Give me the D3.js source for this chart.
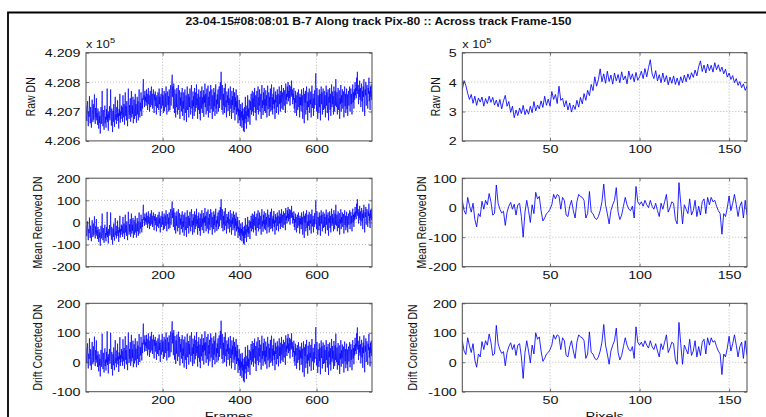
<!DOCTYPE html>
<html><head><meta charset="utf-8">
<script src="https://cdn.jsdelivr.net/npm/d3@7"></script>
<style>
html,body{margin:0;padding:0;background:#fff;overflow:hidden}
svg{display:block}
text{font-family:"Liberation Sans",Arial,Helvetica,sans-serif;fill:#111}
</style></head><body>
<svg id="chart" width="766" height="417"></svg>
<script>
const titleText = "23-04-15#08:08:01 B-7 Along track Pix-80 :: Across track Frame-150";

const frameRawDN = [
420720,420685,420668,420710,420735,420675,420650,420700,420682,420752,420695,420660,420715,420678,420645,420702,420740,420690,420664,420725,420672,420700,420758,420686,420658,420712,420680,420745,420670,420695,420655,
420710,420675,420642,420700,420662,420685,420625,420670,420715,420658,420692,420770,420680,420650,420705,420668,420638,420697,420720,420660,420682,420645,420708,420672,420778,420664,420690,420635,420700,420678,420718,
420670,420695,420775,420685,420652,420710,420675,420630,420702,420665,420725,420682,420648,420700,420750,420672,420690,420658,420715,420680,420738,420668,420695,420642,420708,420685,420760,420662,420700,420675,420720,
420690,420715,420665,420755,420700,420680,420725,420655,420708,420765,420685,420718,420670,420735,420695,420650,420712,420778,420702,420675,420722,420688,420745,420665,420705,420770,420680,420720,420692,420750,420660,
420700,420740,420675,420710,420760,420685,420725,420662,420705,420750,420690,420735,420670,420715,420775,420695,420680,420730,420702,420765,420720,420685,420745,420710,420780,420810,420740,420755,420715,420770,420735,
420750,420720,420775,420730,420760,420705,420745,420780,420725,420755,420700,420740,420770,420715,420752,420785,420722,420760,420710,420742,420775,420732,420695,420758,420738,420768,420718,420748,420690,420755,420735,
420712,420765,420740,420705,420778,420725,420750,420685,420745,420760,420710,420735,420780,420720,420755,420695,420742,420770,420702,420730,420762,420715,420785,420738,420690,420748,420768,420722,420752,420700,420775,
420740,420705,420770,420790,420720,420760,420805,420825,420750,420785,420710,420795,420745,420695,420775,420735,420680,420760,420715,420780,420730,420690,420755,420790,420705,420740,420772,420675,420748,420720,420765,
420700,420750,420780,420685,420735,420710,420765,420670,420745,420775,420720,420695,420755,420665,420740,420785,420705,420730,420760,420680,420750,420715,420778,420725,420690,420758,420790,420710,420738,420675,420768,
420718,420752,420685,420780,420730,420700,420765,420712,420792,420722,420745,420675,420760,420705,420775,420735,420692,420750,420670,420770,420740,420710,420785,420695,420748,420725,420772,420682,420755,420730,420795,
420715,420760,420690,420742,420778,420702,420735,420788,420680,420750,420720,420768,420695,420745,420790,420708,420730,420775,420675,420755,420738,420700,420780,420718,420765,420685,420748,420792,420710,420740,420692,
420758,420725,420775,420700,420745,420785,420712,420765,420800,420740,420835,420770,420705,420790,420735,420690,420760,420720,420780,420695,420750,420795,420715,420738,420680,420768,420730,420755,420702,420778,420722,
420745,420685,420760,420785,420710,420740,420675,420770,420722,420752,420695,420780,420730,420705,420765,420670,420748,420715,420775,420690,420735,420700,420755,420660,420710,420685,420740,420670,420705,420650,420725,
420680,420700,420645,420730,420670,420710,420635,420690,420630,420715,420660,420750,420675,420700,420642,420720,420685,420755,420665,420710,420680,420740,420695,420655,420735,420705,420760,420690,420720,420770,420700,
420745,420685,420765,420715,420780,420725,420695,420755,420670,420740,420770,420705,420735,420785,420690,420748,420720,420775,420700,420730,420760,420675,420750,420790,420712,420738,420688,420765,420722,420780,420702,
420742,420695,420772,420720,420755,420680,420745,420788,420708,420730,420765,420685,420750,420715,420778,420700,420738,420792,420705,420748,420690,420760,420725,420782,420710,420740,420675,420768,420730,420755,420695,
420750,420775,420715,420760,420690,420740,420785,420725,420755,420700,420770,420730,420790,420710,420745,420765,420705,420780,420735,420720,420772,420748,420695,420795,420740,420760,420725,420785,420750,420800,420735,
420770,420745,420790,420720,420765,420785,420750,420805,420755,420775,420725,420760,420740,420780,420710,420745,420695,420770,420730,420755,420685,420740,420765,420705,420735,420775,420715,420750,420680,420760,420722,
420748,420700,420775,420720,420755,420675,420738,420780,420710,420660,420760,420730,420770,420690,420745,420785,420705,420735,420670,420765,420715,420752,420778,420695,420740,420725,420768,420680,420750,420788,420712,
420735,420760,420685,420745,420710,420772,420722,420790,420830,420750,420700,420780,420730,420675,420755,420740,420695,420775,420715,420760,420670,420748,420785,420725,420765,420690,420742,420778,420705,420738,420770,
420710,420755,420680,420745,420788,420720,420765,420695,420735,420775,420670,420750,420730,420780,420705,420760,420685,420740,420792,420715,420768,420725,420752,420690,420785,420742,420700,420770,420720,420810,420745,
420715,420765,420690,420750,420780,420705,420738,420772,420675,420745,420725,420790,420700,420755,420730,420775,420710,420740,420768,420680,420748,420785,420718,420760,420695,420735,420778,420708,420758,420685,420742,
420770,420720,420755,420785,420700,420745,420778,420725,420760,420690,420750,420792,420730,420765,420710,420775,420740,420800,420755,420780,420745,420815,420770,420835,420760,420790,420725,420775,420750,420805,420740,
420780,420715,420765,420795,420735,420770,420700,420785,420750,420810,420740,420685,420775,420755,420800,420720,420768,420790,420745,420710,420780,420760,420815,420735,420770,420705,420785,420750,420792,420740,420765
];

const frameMeanRemovedDN = [
-10,-45,-62,-20,5,-55,-80,-30,-48,22,-35,-70,-15,-52,-85,-28,10,-40,-66,-5,-58,-30,28,-44,-72,-18,-50,15,-60,-35,-75,
-20,-55,-88,-30,-68,-45,-105,-60,-15,-72,-38,40,-50,-80,-25,-62,-92,-33,-10,-70,-48,-85,-22,-58,48,-66,-40,-95,-30,-52,-12,
-60,-35,45,-45,-78,-20,-55,-100,-28,-65,-5,-48,-82,-30,20,-58,-40,-72,-15,-50,8,-62,-35,-88,-22,-45,30,-68,-30,-55,-10,
-40,-15,-65,25,-30,-50,-5,-75,-22,35,-45,-12,-60,5,-35,-80,-18,48,-28,-55,-8,-42,15,-65,-25,40,-50,-10,-38,20,-70,
-30,10,-55,-20,30,-45,-5,-68,-25,20,-40,5,-60,-15,45,-35,-50,0,-28,35,-10,-45,15,-20,50,80,10,25,-15,40,5,
20,-10,45,0,30,-25,15,50,-5,25,-30,10,40,-15,22,55,-8,30,-20,12,45,2,-35,28,8,38,-12,18,-40,25,5,
-18,35,10,-25,48,-5,20,-45,15,30,-20,5,50,-10,25,-35,12,40,-28,0,32,-15,55,8,-40,18,38,-8,22,-30,45,
10,-25,40,60,-10,30,75,95,20,55,-20,65,15,-35,45,5,-50,30,-15,50,0,-40,25,60,-25,10,42,-55,18,-10,35,
-30,20,50,-45,5,-20,35,-60,15,45,-10,-35,25,-65,10,55,-25,0,30,-50,20,-15,48,-5,-40,28,60,-20,8,-55,38,
-12,22,-45,50,0,-30,35,-18,62,-8,15,-55,30,-25,45,5,-38,20,-60,40,10,-20,55,-35,18,-5,42,-48,25,0,65,
-15,30,-40,12,48,-28,5,58,-50,20,-10,38,-35,15,60,-22,0,45,-55,25,8,-30,50,-12,35,-45,18,62,-20,10,-38,
28,-5,45,-30,15,55,-18,35,70,10,105,40,-25,60,5,-40,30,-10,50,-35,20,65,-15,8,-50,38,0,25,-28,48,-8,
15,-45,30,55,-20,10,-55,40,-8,22,-35,50,0,-25,35,-60,18,-15,45,-40,5,-30,25,-70,-20,-45,10,-60,-25,-80,-5,
-50,-30,-85,0,-60,-20,-95,-40,-100,-15,-70,20,-55,-30,-88,-10,-45,25,-65,-20,-50,10,-35,-75,5,-25,30,-40,-10,40,-30,
15,-45,35,-15,50,-5,-35,25,-60,10,40,-25,5,55,-40,18,-10,45,-30,0,30,-55,20,60,-18,8,-42,35,-8,50,-28,
12,-35,42,-10,25,-50,15,58,-22,0,35,-45,20,-15,48,-30,8,62,-25,18,-40,30,-5,52,-20,10,-55,38,0,25,-35,
20,45,-15,30,-40,10,55,-5,25,-30,40,0,60,-20,15,35,-25,50,5,-10,42,18,-35,65,10,30,-5,55,20,70,5,
40,15,60,-10,35,55,20,75,25,45,-5,30,10,50,-20,15,-35,40,0,25,-45,10,35,-25,5,45,-15,20,-50,30,-8,
18,-30,45,-10,25,-55,8,50,-20,-70,30,0,40,-40,15,55,-25,5,-60,35,-15,22,48,-35,10,-5,38,-50,20,58,-18,
5,30,-45,15,-20,42,-8,60,100,20,-30,50,0,-55,25,10,-35,45,-15,30,-60,18,55,-5,35,-40,12,48,-25,8,40,
-20,25,-50,15,58,-10,35,-35,5,45,-60,20,0,50,-25,30,-45,10,62,-15,38,-5,22,-40,55,12,-30,40,-10,80,15,
-15,35,-40,20,50,-25,8,42,-55,15,-5,60,-30,25,0,45,-20,10,38,-50,18,55,-12,30,-35,5,48,-22,28,-45,12,
40,-10,25,55,-30,15,48,-5,30,-40,20,62,0,35,-20,45,10,70,25,50,15,85,40,105,30,60,-5,45,20,75,10,
50,-15,35,65,5,40,-30,55,20,80,10,-45,45,25,70,-10,38,60,15,-20,50,30,85,5,40,-25,55,20,62,10,35
];

const frameDriftCorrectedDN = [
49,14,-3,39,64,4,-21,29,11,81,24,-11,44,7,-26,31,69,19,-7,54,1,29,87,15,-13,41,9,74,-1,24,-16,
37,2,-31,27,-11,12,-48,-3,42,-15,19,97,7,-23,32,-5,-35,24,47,-13,9,-28,35,-1,105,-9,17,-38,27,5,45,
-5,20,100,10,-23,35,0,-45,27,-10,50,7,-27,25,75,-3,15,-17,40,5,63,-7,20,-33,33,10,85,-13,25,0,45,
13,38,-12,78,23,3,48,-22,31,88,8,41,-7,58,18,-27,35,101,25,-2,45,11,68,-12,28,93,3,43,15,73,-17,
21,61,-4,31,81,6,46,-17,26,71,11,56,-9,36,96,16,1,51,23,86,41,6,66,31,101,131,61,76,36,91,56,
68,38,93,48,78,23,63,98,43,73,18,58,88,33,70,103,40,78,28,60,93,50,13,76,56,86,36,66,8,73,53,
28,81,56,21,94,41,66,1,61,76,26,51,96,36,71,11,58,86,18,46,78,31,101,54,6,64,84,38,68,16,91,
54,19,84,104,34,74,119,139,64,99,24,109,59,9,89,49,-6,74,29,94,44,4,69,104,19,54,86,-11,62,34,79,
12,62,92,-3,47,22,77,-18,57,87,32,7,67,-23,52,97,17,42,72,-8,62,27,90,37,2,70,102,22,50,-13,80,
28,62,-5,90,40,10,75,22,102,32,55,-15,70,15,85,45,2,60,-20,80,50,20,95,5,58,35,82,-8,65,40,105,
23,68,-2,50,86,10,43,96,-12,58,28,76,3,53,98,16,38,83,-17,63,46,8,88,26,73,-7,56,100,18,48,0,
64,31,81,6,51,91,18,71,106,46,141,76,11,96,41,-4,66,26,86,1,56,101,21,44,-14,74,36,61,8,84,28,
49,-11,64,89,14,44,-21,74,26,56,-1,84,34,9,69,-26,52,19,79,-6,39,4,59,-36,14,-11,44,-26,9,-46,29,
-18,2,-53,32,-28,12,-63,-8,-68,17,-38,52,-23,2,-56,22,-13,57,-33,12,-18,42,-3,-43,37,7,62,-8,22,72,2,
45,-15,65,15,80,25,-5,55,-30,40,70,5,35,85,-10,48,20,75,0,30,60,-25,50,90,12,38,-12,65,22,80,2,
40,-7,70,18,53,-22,43,86,6,28,63,-17,48,13,76,-2,36,90,3,46,-12,58,23,80,8,38,-27,66,28,53,-7,
46,71,11,56,-14,36,81,21,51,-4,66,26,86,6,41,61,1,76,31,16,68,44,-9,91,36,56,21,81,46,96,31,
63,38,83,13,58,78,43,98,48,68,18,53,33,73,3,38,-12,63,23,48,-22,33,58,-2,28,68,8,43,-27,53,15,
39,-9,66,11,46,-34,29,71,1,-49,51,21,61,-19,36,76,-4,26,-39,56,6,43,69,-14,31,16,59,-29,41,79,3,
24,49,-26,34,-1,61,11,79,119,39,-11,69,19,-36,44,29,-16,64,4,49,-41,37,74,14,54,-21,31,67,-6,27,59,
-3,42,-33,32,75,7,52,-18,22,62,-43,37,17,67,-8,47,-28,27,79,2,55,12,39,-23,72,29,-13,57,7,97,32,
0,50,-25,35,65,-10,23,57,-40,30,10,75,-15,40,15,60,-5,25,53,-35,33,70,3,45,-20,20,63,-7,43,-30,27,
53,3,38,68,-17,28,61,8,43,-27,33,75,13,48,-7,58,23,83,38,63,28,98,53,118,43,73,8,58,33,88,23,
61,-4,46,76,16,51,-19,66,31,91,21,-34,56,36,81,1,49,71,26,-9,61,41,96,16,51,-14,66,31,73,21,46
];

const pixelRawDN = [
375000,405000,388000,362000,341000,358000,328000,352000,321000,346000,332000,349000,318000,344000,327000,352000,331000,348000,322000,339000,
316000,341000,309000,336000,355000,318000,334000,297000,318000,279000,305000,286000,312000,293000,321000,289000,307000,291000,318000,296000,
334000,302000,322000,309000,336000,314000,352000,321000,342000,318000,368000,341000,358000,327000,386000,338000,345000,316000,337000,305000,
329000,298000,322000,307000,338000,315000,348000,326000,361000,338000,372000,354000,392000,371000,418000,386000,408000,445000,401000,428000,
396000,437000,402000,424000,393000,431000,404000,426000,398000,435000,407000,421000,394000,438000,409000,428000,401000,433000,406000,418000,
437000,412000,446000,418000,449000,476000,428000,412000,439000,404000,425000,398000,431000,401000,422000,391000,417000,396000,421000,392000,
414000,389000,418000,398000,424000,401000,428000,409000,432000,416000,441000,421000,452000,472000,436000,458000,431000,461000,439000,457000,
434000,466000,442000,459000,436000,451000,428000,444000,417000,431000,409000,422000,398000,412000,389000,402000,381000,394000,372000,386000
];

const pixelMeanRemovedDN = [
25,-10,-22,35,8,-15,15,-40,-65,-20,-30,22,-5,25,10,48,20,-25,-20,77,
15,-5,-18,-12,-60,-15,5,18,-5,12,-25,10,15,-30,-100,-15,25,-10,-50,10,
-20,52,30,38,-10,-45,-35,-20,-15,-5,10,45,30,45,40,-5,35,25,-25,-30,
5,25,-10,-35,20,45,38,35,25,-35,-20,55,-15,-20,-35,-40,-30,-10,20,80,
10,-20,-55,-10,10,25,68,-15,-40,-25,5,35,10,-5,-10,5,-35,72,20,10,
20,5,25,10,0,25,5,-5,15,-10,-30,15,-5,20,45,-15,0,20,15,-40,
-55,85,15,-55,10,-5,-20,30,-25,-10,25,-30,5,-25,20,30,-20,35,10,35,
20,25,5,-10,-20,-90,-20,-30,0,40,-10,15,45,10,-30,5,20,-35,25,-25
];

const pixelDriftCorrectedDN = [
73,38,26,83,56,33,63,8,-17,28,18,70,43,73,58,96,68,23,28,125,
63,43,30,36,-12,33,53,66,43,60,23,58,63,18,-55,33,73,38,-2,58,
28,100,78,86,38,3,13,28,33,43,58,93,78,93,88,43,83,73,23,18,
53,73,38,13,68,93,86,83,73,13,28,103,33,28,13,8,18,38,68,128,
58,28,-7,38,58,73,116,33,8,23,53,83,58,43,38,53,13,120,68,58,
68,53,73,58,48,73,53,43,63,38,18,63,43,68,93,33,48,68,63,8,
-7,135,63,-7,58,43,28,78,23,38,73,18,53,23,68,78,28,83,58,83,
68,73,53,38,28,-42,28,18,48,88,38,63,93,58,18,53,68,13,73,23
];

const frameTicks = [200, 400, 600];
const pixelTicks = [50, 100, 150];
const rawFrameTicks = [420600, 420700, 420800, 420900];
const rawPixelTicks = [200000, 300000, 400000, 500000];
const mrFrameTicks = [-200, -100, 0, 100, 200];
const mrPixelTicks = [-200, -100, 0, 100];
const dcTicks = [-100, 0, 100, 200];
const yLabels = ["Raw DN", "Mean Removed DN", "Drift Corrected DN"];
const xLabels = ["Frames", "Pixels"];
const exponentLabel = "5";

// ---------- layout ----------
const SX = 1.3;           // horizontal glyph stretch of the source image
const FS = 11;            // tick font size
const cols = [{x0: 86, x1: 372, dom: [1, 744], ticks: frameTicks},
              {x0: 462.3, x1: 747, dom: [1, 160], ticks: pixelTicks}];
const rows = [{y0: 52.7, y1: 140.9}, {y0: 178.2, y1: 266.7}, {y0: 303.3, y1: 391.7}];

const panels = [
  {r: 0, c: 0, data: frameRawDN, yDom: [420600, 420900], yTicks: rawFrameTicks, fmt: v => (v / 1e5).toFixed(3), label: yLabels[0], labX: 30, exp: true},
  {r: 0, c: 1, data: pixelRawDN, yDom: [200000, 500000], yTicks: rawPixelTicks, fmt: v => String(v / 1e5), label: yLabels[0], labX: 435, exp: true},
  {r: 1, c: 0, data: frameMeanRemovedDN, yDom: [-200, 200], yTicks: mrFrameTicks, fmt: String, label: yLabels[1], labX: 37},
  {r: 1, c: 1, data: pixelMeanRemovedDN, yDom: [-200, 100], yTicks: mrPixelTicks, fmt: String, label: yLabels[1], labX: 421.5},
  {r: 2, c: 0, data: frameDriftCorrectedDN, yDom: [-100, 200], yTicks: dcTicks, fmt: String, label: yLabels[2], labX: 37},
  {r: 2, c: 1, data: pixelDriftCorrectedDN, yDom: [-100, 200], yTicks: dcTicks, fmt: String, label: yLabels[2], labX: 412}
];

const svg = d3.select("#chart");
svg.append("rect").attr("width", 766).attr("height", 417).attr("fill", "#fff");
svg.append("path").attr("d", "M8,417V12.5H766").attr("fill", "none")
  .attr("stroke", "#000").attr("stroke-width", 1.8);

svg.append("text").attr("x", 378.5).attr("y", 24.5).attr("text-anchor", "middle")
  .attr("font-size", 11).attr("font-weight", "bold")
  .attr("textLength", 386).attr("lengthAdjust", "spacingAndGlyphs")
  .text(titleText);

const defs = svg.append("defs");
const AX = "#4a4a4a";

panels.forEach((p, i) => {
  const col = cols[p.c], row = rows[p.r];
  const x = d3.scaleLinear().domain(col.dom).range([col.x0, col.x1]);
  const y = d3.scaleLinear().domain(p.yDom).range([row.y1, row.y0]);
  const g = svg.append("g");

  // grid
  const grid = g.append("g").attr("stroke", "#a8a8a8").attr("stroke-width", 0.8)
    .attr("stroke-dasharray", "1,2");
  grid.append("g").selectAll("line").data(col.ticks).join("line")
    .attr("x1", d => x(d)).attr("x2", d => x(d)).attr("y1", row.y0).attr("y2", row.y1);
  grid.append("g").selectAll("line").data(p.yTicks.filter(v => v > p.yDom[0] && v < p.yDom[1])).join("line")
    .attr("y1", d => y(d)).attr("y2", d => y(d)).attr("x1", col.x0).attr("x2", col.x1);

  // data line
  const cid = "clip" + i;
  defs.append("clipPath").attr("id", cid).append("rect")
    .attr("x", col.x0).attr("y", row.y0).attr("width", col.x1 - col.x0).attr("height", row.y1 - row.y0);
  const line = d3.line().x((d, k) => x(k + 1)).y(d => y(d));
  g.append("path").datum(p.data).attr("clip-path", `url(#${cid})`)
    .attr("d", line).attr("fill", "none").attr("stroke", "#0000ff")
    .attr("stroke-width", p.c === 0 ? 0.7 : 0.85).attr("stroke-linejoin", "round");

  // axes (MATLAB-style inward ticks)
  const style = sel => {
    sel.select(".domain").remove();
    sel.attr("color", AX).attr("font-family", null).attr("font-size", null);
    sel.selectAll(".tick line").attr("stroke-width", 0.8);
  };
  const xb = g.append("g").attr("transform", `translate(0,${row.y1})`)
    .call(d3.axisBottom(x).tickValues(col.ticks).tickSize(-3).tickPadding(4.6).tickFormat(d => String(d)));
  style(xb);
  xb.selectAll("text").attr("font-size", FS).attr("transform", `scale(${SX},1)`).style("fill", "#111");
  const yl = g.append("g").attr("transform", `translate(${col.x0},0)`)
    .call(d3.axisLeft(y).tickValues(p.yTicks).tickSize(-3).tickPadding(5.5).tickFormat(p.fmt));
  style(yl);
  yl.selectAll("text").attr("font-size", FS).attr("x", -5.5 / SX).attr("dy", "0.36em")
    .attr("transform", `scale(${SX},1)`).style("fill", "#111");
  const xt = g.append("g").attr("transform", `translate(0,${row.y0})`)
    .call(d3.axisTop(x).tickValues(col.ticks).tickSize(-3).tickFormat(""));
  style(xt);
  const yr = g.append("g").attr("transform", `translate(${col.x1},0)`)
    .call(d3.axisRight(y).tickValues(p.yTicks).tickSize(-3).tickFormat(""));
  style(yr);

  // box
  g.append("rect").attr("x", col.x0).attr("y", row.y0)
    .attr("width", col.x1 - col.x0).attr("height", row.y1 - row.y0)
    .attr("fill", "none").attr("stroke", AX).attr("stroke-width", 1);

  // y label
  g.append("text")
    .attr("transform", `translate(${p.labX},${(row.y0 + row.y1) / 2}) scale(${SX},1) rotate(-90)`)
    .attr("text-anchor", "middle").attr("dy", "0.36em").attr("font-size", 10.5)
    .text(p.label);

  // exponent label
  if (p.exp) {
    const t = g.append("text").attr("transform", `translate(${col.x0},48) scale(1.15,1)`)
      .attr("font-size", FS);
    t.append("tspan").text("x 10");
    t.append("tspan").attr("dy", -5).attr("font-size", 8).text(exponentLabel);
  }
});

// x labels (cut by the bottom edge, as in the source)
cols.forEach((col, c) => {
  svg.append("text")
    .attr("transform", `translate(${(col.x0 + col.x1) / 2},419.5) scale(${SX},1)`)
    .attr("text-anchor", "middle").attr("font-size", FS).text(xLabels[c]);
});
</script>
</body></html>
